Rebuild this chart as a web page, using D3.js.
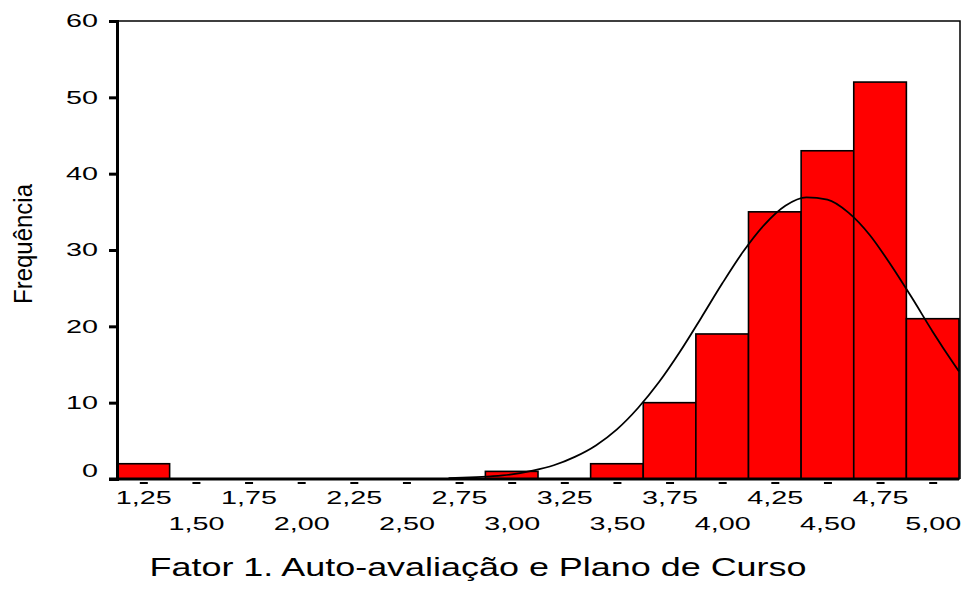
<!DOCTYPE html>
<html>
<head>
<meta charset="utf-8">
<script src="https://cdn.jsdelivr.net/npm/d3@7"></script>
<style>
  html, body { margin: 0; padding: 0; background: #fff; }
  svg { display: block; }
  text { font-family: "Liberation Sans", Arial, sans-serif; fill: #000; }
</style>
</head>
<body>
<svg id="chart" width="964" height="594"></svg>
<script>
// ---- data ----
const binCenters = [1.25, 1.50, 1.75, 2.00, 2.25, 2.50, 2.75, 3.00, 3.25, 3.50, 3.75, 4.00, 4.25, 4.50, 4.75, 5.00];
const binLabels  = ["1,25","1,50","1,75","2,00","2,25","2,50","2,75","3,00","3,25","3,50","3,75","4,00","4,25","4,50","4,75","5,00"];
const frequencies = [2, 0, 0, 0, 0, 0, 0, 1, 0, 2, 10, 19, 35, 43, 52, 21];
const yTicks = [0, 10, 20, 30, 40, 50, 60];
// normal curve
const curveX = [2.70, 2.80, 2.90, 3.00, 3.10, 3.20, 3.30, 3.40, 3.50, 3.60, 3.70, 3.80, 3.90, 4.00, 4.10, 4.20, 4.30, 4.40, 4.50, 4.60, 4.70, 4.80, 4.90, 5.00, 5.10, 5.125];
const curveY = [0.1, 0.2, 0.35, 0.6, 1.1, 1.8, 2.9, 4.4, 6.5, 9.3, 12.7, 16.7, 21.1, 25.6, 29.8, 33.3, 35.8, 36.9, 36.6, 34.9, 32.0, 28.1, 23.8, 19.3, 15.1, 14.1];
const binWidth = 0.25;
const xTitle = "Fator 1. Auto-avaliação e Plano de Curso";
const yTitle = "Frequência";

// ---- layout ----
const svg = d3.select("#chart");
const pLeft = 117, pRight = 959, pTop = 21, pBottom = 479;

const x = d3.scaleLinear().domain([1.125, 5.125]).range([pLeft, pRight]);
const y = d3.scaleLinear().domain([0, 60]).range([pBottom, pTop]);

// frame (top and right)
svg.append("path")
  .attr("d", `M${pLeft},${pTop}H${x(5.125) + 1}V${pBottom}`)
  .attr("fill", "none").attr("stroke", "#000").attr("stroke-width", 1.5);

// bars
const bars = binCenters.map((c, i) => ({ c, v: frequencies[i] })).filter(d => d.v > 0);
svg.append("g").selectAll("rect").data(bars).join("rect")
  .attr("x", d => x(d.c - binWidth / 2))
  .attr("y", d => y(d.v))
  .attr("width", d => x(d.c + binWidth / 2) - x(d.c - binWidth / 2))
  .attr("height", d => y(0) - y(d.v))
  .attr("fill", "#ff0000")
  .attr("stroke", "#000")
  .attr("stroke-width", 1.6);

// normal curve
const line = d3.line().x(d => x(d[0])).y(d => y(d[1])).curve(d3.curveMonotoneX);
svg.append("path")
  .datum(curveX.map((v, i) => [v, curveY[i]]))
  .attr("d", line)
  .attr("fill", "none").attr("stroke", "#000").attr("stroke-width", 1.8);

// y axis
const yAxis = svg.append("g").attr("transform", `translate(${pLeft},0)`)
  .call(d3.axisLeft(y).tickValues(yTicks).tickSize(8).tickPadding(11).tickFormat(d3.format("d")));
yAxis.select(".domain").attr("stroke-width", 3);
yAxis.selectAll(".tick line").attr("stroke-width", 3);
yAxis.selectAll(".tick text")
  .attr("font-size", 18.5)
  .attr("textLength", d => String(d).length * 16)
  .attr("lengthAdjust", "spacingAndGlyphs")
  .attr("y", d => d === 0 ? -8 : 0);

// x axis
const xAxis = svg.append("g").attr("transform", `translate(0,${pBottom})`)
  .call(d3.axisBottom(x).tickValues(binCenters).tickSize(0).tickFormat((d, i) => binLabels[i]));
xAxis.select(".domain")
  .attr("d", `M${pLeft - 8},0H${x(5.125)}`)
  .attr("stroke-width", 3);
xAxis.selectAll(".tick line")
  .attr("x1", -4).attr("x2", 4).attr("y1", 4).attr("y2", 4)
  .attr("stroke-width", 2);
xAxis.selectAll(".tick text")
  .attr("font-size", 18.5)
  .attr("dy", null)
  .attr("y", (d, i) => i % 2 === 0 ? 25 : 51)
  .attr("textLength", 56)
  .attr("lengthAdjust", "spacingAndGlyphs");

// axis titles
svg.append("text")
  .attr("transform", `translate(32,244) rotate(-90)`)
  .attr("text-anchor", "middle")
  .attr("font-size", 26)
  .attr("textLength", 120)
  .attr("lengthAdjust", "spacingAndGlyphs")
  .text(yTitle);

svg.append("text")
  .attr("x", 478).attr("y", 576)
  .attr("text-anchor", "middle")
  .attr("font-size", 26)
  .attr("textLength", 657)
  .attr("lengthAdjust", "spacingAndGlyphs")
  .text(xTitle);
</script>
</body>
</html>
